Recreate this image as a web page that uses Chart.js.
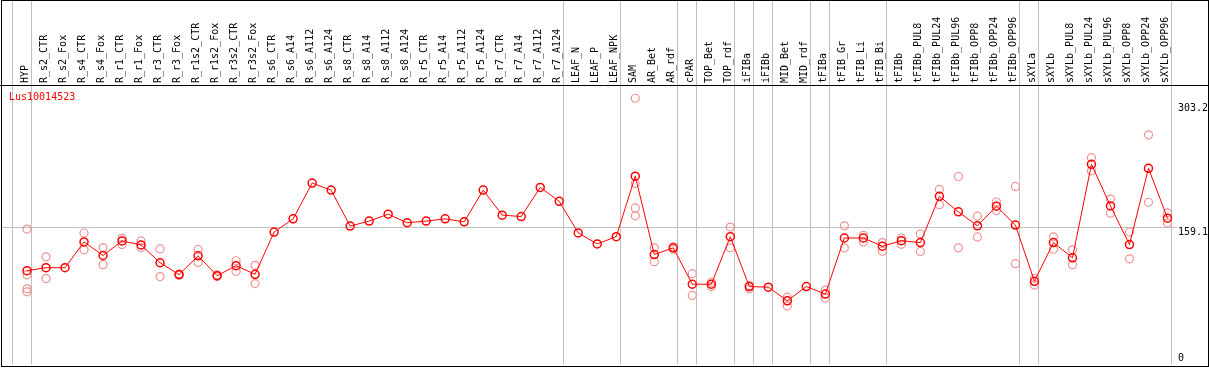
<!DOCTYPE html>
<html>
<head>
<meta charset="utf-8">
<script src="https://cdn.jsdelivr.net/npm/chart.js@4.4.1/dist/chart.umd.min.js"></script>
<style>
body { margin: 0; background: #fff; }
#wrap { width: 1209px; height: 370px; }
</style>
</head>
<body>
<div id="wrap"><canvas id="chart"></canvas></div>
<script>
const geneId = 'Lus10014523';

const samples = ['HYP', 'R_s2_CTR', 'R_s2_Fox', 'R_s4_CTR', 'R_s4_Fox', 'R_r1_CTR', 'R_r1_Fox',
  'R_r3_CTR', 'R_r3_Fox', 'R_r1s2_CTR', 'R_r1s2_Fox', 'R_r3s2_CTR', 'R_r3s2_Fox',
  'R_s6_CTR', 'R_s6_A14', 'R_s6_A112', 'R_s6_A124', 'R_s8_CTR', 'R_s8_A14', 'R_s8_A112', 'R_s8_A124',
  'R_r5_CTR', 'R_r5_A14', 'R_r5_A112', 'R_r5_A124', 'R_r7_CTR', 'R_r7_A14', 'R_r7_A112', 'R_r7_A124',
  'LEAF_N', 'LEAF_P', 'LEAF_NPK', 'SAM', 'AR_Bet', 'AR_rdf', 'cPAR', 'TOP_Bet', 'TOP_rdf',
  'iFIBa', 'iFIBb', 'MID_Bet', 'MID_rdf', 'tFIBa', 'tFIB_Gr', 'tFIB_Li', 'tFIB_Bi', 'tFIBb',
  'tFIBb_PUL8', 'tFIBb_PUL24', 'tFIBb_PUL96', 'tFIBb_OPP8', 'tFIBb_OPP24', 'tFIBb_OPP96',
  'sXYLa', 'sXYLb', 'sXYLb_PUL8', 'sXYLb_PUL24', 'sXYLb_PUL96', 'sXYLb_OPP8', 'sXYLb_OPP24', 'sXYLb_OPP96'];

// mean expression per sample
const means = [108.4, 111.8, 111.8, 141.6, 125.9, 142.7, 138.1, 117.5, 103.8, 125.5, 102.6, 114.1, 104.2,
  153.0, 168.2, 209.5, 201.4, 159.9, 165.6, 173.6, 163.7, 165.6, 168.2, 164.8, 201.4, 172.5, 170.9, 204.5, 188.5,
  151.9, 139.3, 147.6, 217.5, 127.0, 134.7, 92.7, 92.7, 147.6, 90.0, 89.3, 73.6, 90.0, 81.3, 146.1, 146.1, 136.6, 143.0,
  140.8, 194.2, 176.3, 160.2, 182.8, 161.0, 96.1, 140.8, 123.2, 231.2, 183.1, 138.5, 226.6, 169.0];

// individual replicates (pale circles)
const replicates = [
  [156.4, 103.4, 87.4, 83.9], [124.4, 99.2], [], [151.9, 132.4], [134.7, 115.3], [145.7, 138.5], [142.7, 135.0],
  [133.5, 101.5], [104.5, 103.0], [132.8, 117.9], [103.4, 101.5], [119.8, 107.6], [114.5, 93.5],
  [], [], [], [], [], [], [], [], [], [], [], [], [], [], [], [],
  [], [], [], [307.5, 209.1, 180.8, 171.7], [134.7, 118.7], [136.0, 133.0], [104.9, 79.8], [95.0, 90.0], [158.7, 134.7],
  [91.2, 87.4], [], [77.8, 67.5], [], [85.8, 76.7], [160.2, 134.7], [149.2, 141.6], [140.8, 130.8], [146.1, 138.8],
  [150.7, 130.5], [202.2, 184.6], [217.1, 134.7], [171.3, 147.3], [187.7, 177.8], [205.7, 116.4],
  [99.6, 91.9], [147.3, 133.1], [132.4, 115.3], [238.9, 223.6], [191.1, 174.8], [153.0, 122.1], [265.2, 187.4], [175.1, 163.3]];

const yTicks = [0, 159.1, 303.2];
const yGrid = [159.1];
// sample indices followed by a group separator
const separators = [-1, 0, 28, 31, 34, 35, 37, 38, 39, 41, 42, 45, 52, 53, 60];

const monoFont = { family: 'DejaVu Sans Mono', size: 10 };

const repPoints = [];
replicates.forEach((reps, i) => {
  reps.forEach(v => repPoints.push({ x: samples[i], y: v }));
});

const decor = {
  id: 'decor',
  beforeDatasetsDraw(chart) {
    const { ctx, chartArea, scales } = chart;
    const x = scales.x;
    const y = scales.y;
    const step = x.getPixelForValue(1) - x.getPixelForValue(0);
    ctx.save();
    ctx.strokeStyle = '#c0c0c0';
    ctx.lineWidth = 1;
    separators.forEach(i => {
      const px = Math.round(x.getPixelForValue(i) + 0.2 * step) + 0.5;
      ctx.beginPath();
      ctx.moveTo(px, 0);
      ctx.lineTo(px, chartArea.bottom);
      ctx.stroke();
    });
    yGrid.forEach(v => {
      const py = Math.round(y.getPixelForValue(v)) + 0.5;
      ctx.beginPath();
      ctx.moveTo(1, py);
      ctx.lineTo(chartArea.right, py);
      ctx.stroke();
    });
    ctx.restore();
  },
  afterDraw(chart) {
    const { ctx, chartArea, width } = chart;
    ctx.save();
    ctx.strokeStyle = '#000';
    ctx.lineWidth = 1;
    const top = Math.round(chartArea.top) + 0.5;
    ctx.beginPath();
    ctx.moveTo(0, top);
    ctx.lineTo(width, top);
    ctx.stroke();
    ctx.strokeRect(1.5, 0.5, width - 2, Math.round(chartArea.bottom) + 1);
    ctx.fillStyle = '#ff0000';
    ctx.font = '10px "DejaVu Sans Mono"';
    ctx.textBaseline = 'middle';
    ctx.fillText(chart.data.datasets[0].label, chartArea.left - 8.5, chartArea.top + 12);
    ctx.restore();
  }
};

new Chart(document.getElementById('chart'), {
  type: 'line',
  data: {
    labels: samples,
    datasets: [{
      label: geneId,
      data: means,
      borderColor: '#ff0000',
      borderWidth: 1,
      pointStyle: 'circle',
      pointRadius: 4,
      pointBorderWidth: 1.5,
      pointBorderColor: '#ff0000',
      pointBackgroundColor: 'rgba(0,0,0,0)',
      tension: 0
    }, {
      label: 'replicates',
      data: repPoints,
      showLine: false,
      pointStyle: 'circle',
      pointRadius: 4,
      pointBorderWidth: 1.2,
      pointBorderColor: '#f09090',
      pointBackgroundColor: 'rgba(0,0,0,0)'
    }]
  },
  options: {
    responsive: true,
    maintainAspectRatio: false,
    animation: false,
    devicePixelRatio: 1,
    layout: { padding: { left: 17.5, right: 0, top: 0, bottom: 3 } },
    plugins: {
      legend: { display: false },
      title: { display: false },
      tooltip: { enabled: false }
    },
    scales: {
      x: {
        type: 'category',
        position: 'top',
        offset: true,
        grid: { display: false, drawTicks: false },
        border: { display: false },
        ticks: {
          autoSkip: false,
          minRotation: 90,
          maxRotation: 90,
          padding: 2,
          labelOffset: 10,
          color: '#000',
          font: monoFont
        },
        afterFit(scale) {
          scale.height = 85;
          scale.paddingLeft = 0;
          scale.paddingRight = 0;
        }
      },
      y: {
        position: 'right',
        min: 0,
        max: 322.8,
        afterBuildTicks(scale) { scale.ticks = yTicks.map(v => ({ value: v })); },
        afterFit(scale) {
          scale.width = 32;
          scale.paddingTop = 0;
          scale.paddingBottom = 0;
        },
        grid: { display: false, drawTicks: false },
        border: { display: false },
        ticks: {
          padding: 1,
          color: '#000',
          font: monoFont,
          callback: v => (v === 0 ? ['0', ''] : ['', String(v)])
        }
      }
    }
  },
  plugins: [decor]
});
</script>
</body>
</html>
